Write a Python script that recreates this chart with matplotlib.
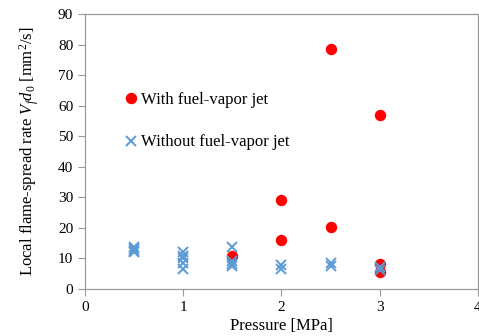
import matplotlib
matplotlib.use("Agg")
import matplotlib.pyplot as plt

plt.rcParams['font.family'] = ['Liberation Serif', 'DejaVu Serif']
plt.rcParams['mathtext.fontset'] = 'custom'
plt.rcParams['mathtext.rm'] = 'Liberation Serif'
plt.rcParams['mathtext.it'] = 'Liberation Serif:italic'

with_p = [1.5, 2.0, 2.0, 2.5, 2.5, 3.0, 3.0, 3.0]
with_v = [10.9, 29.0, 16.1, 78.5, 20.3, 57.0, 8.1, 5.6]

without_p = [0.5, 0.5, 0.5, 0.5, 1.0, 1.0, 1.0, 1.0, 1.0,
             1.5, 1.5, 1.5, 1.5, 2.0, 2.0, 2.5, 2.5, 3.0, 3.0]
without_v = [13.6, 13.0, 12.5, 12.0, 12.0, 10.8, 10.0, 8.4, 6.5,
             13.7, 9.0, 8.2, 7.6, 8.0, 6.5, 8.4, 7.5, 7.3, 6.2]

xticks = [0, 1, 2, 3, 4]
yticks = [0, 10, 20, 30, 40, 50, 60, 70, 80, 90]

fig = plt.figure(figsize=(4.79, 3.36), dpi=100)
ax = fig.add_axes([0.1775, 0.14, 0.82, 0.818])

ax.plot(with_p, with_v, 'o', color='#ff0000', markersize=7.2, linestyle='none',
        label='With fuel-vapor jet', zorder=3)
ax.plot(without_p, without_v, 'x', color='#5b9bd5', markersize=6.5, markeredgewidth=1.4,
        linestyle='none', label='Without fuel-vapor jet', zorder=4)

ax.set_xlim(0, 4)
ax.set_ylim(0, 90)
ax.set_xticks(xticks)
ax.set_yticks(yticks)
ax.tick_params(labelsize=11, direction='out', length=5, color='#999999', width=0.8)
for s in ax.spines.values():
    s.set_color('#999999')
    s.set_linewidth(0.9)

ax.set_xlabel('Pressure [MPa]', fontsize=12, labelpad=3)
ax.set_ylabel(r'Local flame-spread rate $V_f d_0$ [mm$^2$/s]', fontsize=12, labelpad=12)

ax.legend(loc='upper left', bbox_to_anchor=(0.08, 0.742), frameon=False, fontsize=12,
          handletextpad=0.1, handlelength=1.0, labelspacing=1.6, borderaxespad=0)

fig.savefig('out.png', dpi=100)
